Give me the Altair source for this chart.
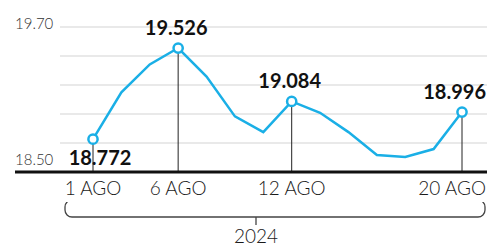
import altair as alt
import pandas as pd

# ---- data ----
days = ["1", "2", "5", "6", "7", "8", "9", "12", "13", "14", "15", "16", "19", "20"]
values = [18.772, 19.16, 19.39, 19.526, 19.29, 18.96, 18.83, 19.084, 18.99, 18.83, 18.64, 18.625, 18.69, 18.996]
highlight_days = ["1", "6", "12", "20"]
highlight_labels = ["18.772", "19.526", "19.084", "18.996"]
tick_labels = ["1 AGO", "6 AGO", "12 AGO", "20 AGO"]
grid_values = [18.74, 18.98, 19.22, 19.46, 19.70]
y_tick_values = [19.70, 18.50]
y_tick_labels = ["19.70", "18.50"]
year_label = "2024"

BLUE = "#1aafe6"
FONT = "Lato"

df = pd.DataFrame({"idx": list(range(len(days))), "day": days, "value": values})
hl = df[df["day"].isin(highlight_days)].copy()
hl["label"] = highlight_labels
hl["tick"] = tick_labels
grid = pd.DataFrame({"value": grid_values})
yt = pd.DataFrame({"value": y_tick_values, "label": y_tick_labels})

xs = alt.Scale(domain=[0, 13], range=[85, 454], nice=False, zero=False)
ys = alt.Scale(domain=[18.5, 19.7], range=[164, 19], nice=False, zero=False)
X = alt.X("idx:Q", scale=xs, axis=None)
Y = alt.Y("value:Q", scale=ys, axis=None)

last_day = highlight_days[-1]

gridlines = alt.Chart(grid).mark_rule(color="#d3d3d3", strokeWidth=1).encode(
    y=Y, x=alt.value(52), x2=alt.value(479)
)
stems = alt.Chart(hl).mark_rule(color="#222", strokeWidth=1).encode(
    x=X, y=Y, y2=alt.value(164)
)
baseline = alt.Chart(yt[yt["label"] == "18.50"]).mark_rule(color="#111", strokeWidth=3).encode(
    y=Y, x=alt.value(7), x2=alt.value(479)
)
line = alt.Chart(df).mark_line(color=BLUE, strokeWidth=2.5).encode(x=X, y=Y)
points = alt.Chart(hl).mark_point(
    shape="circle", filled=True, fill="white", stroke=BLUE, strokeWidth=2.5, size=85, opacity=1
).encode(x=X, y=Y)

lbl_mid = alt.Chart(hl[~hl["day"].isin([highlight_days[0], last_day])]).mark_text(
    font=FONT, fontSize=20, fontWeight="bold", color="#111", baseline="alphabetic", dy=-13, dx=-2
).encode(x=X, y=Y, text="label:N")
lbl_last = alt.Chart(hl[hl["day"] == last_day]).mark_text(
    font=FONT, fontSize=20, fontWeight="bold", color="#111", baseline="alphabetic",
    align="right", dy=-13, dx=24
).encode(x=X, y=Y, text="label:N")
lbl_below = alt.Chart(hl[hl["day"] == highlight_days[0]]).mark_text(
    font=FONT, fontSize=20, fontWeight="bold", color="#111", baseline="alphabetic", dy=26, dx=7
).encode(x=X, y=Y, text="label:N")

ytop = alt.Chart(yt[yt["label"] == "19.70"]).mark_text(
    font=FONT, fontSize=15, fontWeight=300, color="#333", align="left", baseline="middle", dy=-3
).encode(y=Y, x=alt.value(7), text="label:N")
ybot = alt.Chart(yt[yt["label"] == "18.50"]).mark_text(
    font=FONT, fontSize=15, fontWeight=300, color="#333", align="left", baseline="middle", dy=-12
).encode(y=Y, x=alt.value(7), text="label:N")

xticks = alt.Chart(hl[hl["day"] != last_day]).mark_text(
    font=FONT, fontSize=19, fontWeight=300, color="#1a1a1a", baseline="middle"
).encode(x=X, y=alt.value(181), text="tick:N")
xtick_last = alt.Chart(hl[hl["day"] == last_day]).mark_text(
    font=FONT, fontSize=19, fontWeight=300, color="#1a1a1a", baseline="middle", align="right", dx=24
).encode(x=X, y=alt.value(181), text="tick:N")

bracket = alt.Chart(hl.head(1)).mark_rect(
    fillOpacity=0, stroke="#444", strokeWidth=1.3, cornerRadius=7
).encode(x=alt.value(57), x2=alt.value(477), y=alt.value(192), y2=alt.value(209))
bracket_cover = alt.Chart(hl.head(1)).mark_rule(color="white", strokeWidth=4).encode(
    x=alt.value(50), x2=alt.value(479), y=alt.value(192)
)
bracket_tick = alt.Chart(hl.head(1)).mark_rule(color="#444", strokeWidth=1.3).encode(
    x=alt.value(248), y=alt.value(209), y2=alt.value(217)
)
year = alt.Chart(hl.head(1)).mark_text(
    font=FONT, fontSize=19, fontWeight=300, color="#1a1a1a", baseline="middle"
).encode(x=alt.value(248), y=alt.value(229), text=alt.value(year_label))

chart = alt.layer(
    gridlines, bracket, bracket_cover, bracket_tick, year, stems, baseline, line, points,
    lbl_mid, lbl_last, lbl_below, ytop, ybot, xticks, xtick_last
).properties(
    width=479, height=240, autosize=alt.AutoSizeParams(type="none"), padding=0
).configure_view(stroke=None)

chart.save("out.html", embed_options={"renderer": "svg", "actions": False})
